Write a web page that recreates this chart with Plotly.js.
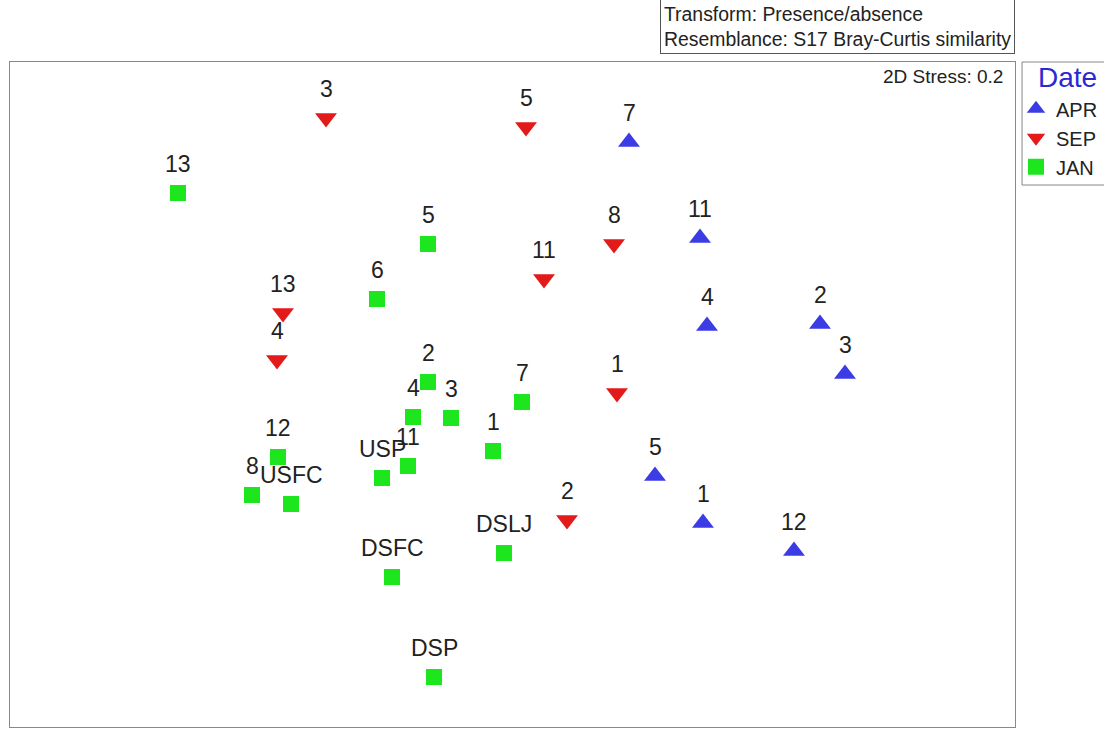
<!DOCTYPE html>
<html>
<head>
<meta charset="utf-8">
<script src="https://cdn.plot.ly/plotly-3.0.1.min.js"></script>
<style>html,body{margin:0;padding:0;background:#fff;overflow:hidden;}#chart{width:1116px;height:729px;}</style>
</head>
<body>
<div id="chart"></div>
<script>
// NMDS ordination coordinates (arbitrary units)
const aprLabels = ['7','11','4','2','3','5','1','12'];
const aprX = [619, 690, 697, 810, 835, 645, 693, 784];
const aprY = [585, 489, 401, 403, 353, 251, 204, 176];

const sepLabels = ['3','5','8','11','13','4','1','2'];
const sepX = [316, 516, 604, 534, 273, 267, 607, 557];
const sepY = [609, 600, 483, 448, 414, 367, 334, 207];

const janLabels = ['13','5','6','2','4','3','7','1','12','11','USP','8','USFC','DSLJ','DSFC','DSP'];
const janX = [168, 418, 367, 418, 403, 441, 512, 483, 268, 398, 372, 242, 281, 494, 382, 424];
const janY = [534, 483, 428, 345, 310, 309, 325, 276, 270, 261, 249, 232, 223, 174, 150, 50];

const groupNames = ['APR', 'SEP', 'JAN'];
const stressText = '2D Stress: 0.2';
const infoText = 'Transform: Presence/absence<br>Resemblance: S17 Bray-Curtis similarity';
const legendTitle = 'Date';

const FONT = 'Liberation Sans, Arial, sans-serif';
const traces = [
  {x: aprX, y: aprY, name: groupNames[0], type: 'scatter', mode: 'markers',
   marker: {symbol: 'triangle-up', size: 19, color: '#3c3ce6'}},
  {x: sepX, y: sepY, name: groupNames[1], type: 'scatter', mode: 'markers',
   marker: {symbol: 'triangle-down', size: 19, color: '#e31a1a'}},
  {x: janX, y: janY, name: groupNames[2], type: 'scatter', mode: 'markers',
   marker: {symbol: 'square', size: 16, color: '#1ee61e'}}
];

const annotations = [];
function addLabels(xs, ys, labels) {
  for (let i = 0; i < xs.length; i++) {
    annotations.push({x: xs[i], y: ys[i], xref: 'x', yref: 'y', text: labels[i],
      showarrow: false, yshift: 29, font: {family: FONT, size: 23, color: '#222'}});
  }
}
addLabels(aprX, aprY, aprLabels);
addLabels(sepX, sepY, sepLabels);
addLabels(janX, janY, janLabels);

annotations.push({xref: 'paper', yref: 'paper', x: 0.99, y: 0.997, xanchor: 'right', yanchor: 'top',
  text: stressText, showarrow: false, font: {family: FONT, size: 19, color: '#222'}});
annotations.push({xref: 'paper', yref: 'paper', x: 1, y: 1, xanchor: 'right', yanchor: 'bottom', yshift: 8,
  text: infoText, showarrow: false, align: 'left', bordercolor: '#555', borderwidth: 1, borderpad: 3,
  font: {family: FONT, size: 19.4, color: '#222'}});
// legend title
annotations.push({xref: 'paper', yref: 'paper', x: 1.0205, y: 0.976, xanchor: 'left', yanchor: 'middle',
  text: legendTitle, showarrow: false, font: {family: FONT, size: 28, color: '#2a2ad0'}});

const axisBase = {showgrid: false, zeroline: false, showticklabels: false, ticks: '',
  showline: true, mirror: true, linecolor: '#888', linewidth: 1, fixedrange: true};

const layout = {
  width: 1116, height: 729,
  margin: {l: 10, r: 101, t: 62, b: 2},
  paper_bgcolor: '#fff', plot_bgcolor: '#fff',
  xaxis: Object.assign({}, axisBase, {range: [0, 1005]}),
  yaxis: Object.assign({}, axisBase, {range: [0, 665]}),
  showlegend: true,
  legend: {x: 1.001, y: 0.959, xanchor: 'left', yanchor: 'top',
    borderwidth: 0, bgcolor: 'rgba(0,0,0,0)',
    font: {family: FONT, size: 20, color: '#222'}, itemwidth: 30, tracegroupgap: 0},
  shapes: [{type: 'rect', xref: 'paper', yref: 'paper', x0: 1.007, x1: 1.2, y0: 0.815, y1: 1,
    line: {color: '#888', width: 1}, fillcolor: 'rgba(0,0,0,0)', layer: 'below'}],
  annotations: annotations
};

Plotly.newPlot('chart', traces, layout, {displayModeBar: false, staticPlot: true});
</script>
</body>
</html>
